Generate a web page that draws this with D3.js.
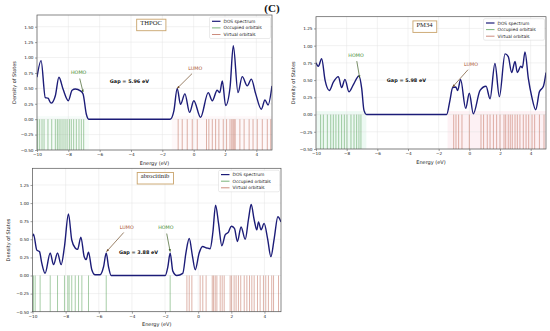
<!DOCTYPE html>
<meta charset="utf-8">
<html>
<head>
  <script src="https://d3js.org/d3.v7.min.js"></script>
  <style>
    html, body { margin: 0; padding: 0; background: #fff; }
    svg { display: block; font-family: "DejaVu Sans", sans-serif; }
  </style>
</head>
<body>
<svg id="chart" width="550" height="331"></svg>
<script>
  // ---- data ----
  const xTicks = [-10, -8, -6, -4, -2, 0, 2, 4]

  const thpocEnergy = [-10, -9.74, -9.47, -9.3, -9.1, -8.83, -8.6, -8.34, -8.0, -7.76,
    -7.55, -7.23, -7.06, -6.85, -6.7, -4, -1.5, -1.26, -1.05, -0.84,
    -0.56, -0.26, 0.01, 0.44, 0.93, 1.19, 1.5, 1.66, 1.83, 2.04,
    2.32, 2.53, 2.83, 3.1, 3.42, 3.68, 3.96, 4.32, 4.55, 4.75, 5.0]
  const thpocDos = [0.68, 0.95, 0.35, 0.34, 0.26, 0.38, 0.68, 0.49, 0.30, 0.47,
    0.49, 0.46, 0.41, 0.08, 0, 0, 0, 0.14, 0.50, 0.24,
    0.41, 0.11, 0.30, 0.03, 0.43, 0.30, 0.47, 0.43, 0.62, 0.22,
    0.51, 1.19, 0.43, 0.69, 0.54, 0.65, 0.41, 0.16, 0.31, 0.23, 0.54]
  const thpocOccupied = [-9.96, -9.83, -9.68, -9.55, -9.30, -9.06, -8.83, -8.70, -8.59, -8.47,
    -8.34, -8.21, -8.08, -7.93, -7.81, -7.66, -7.49, -7.32, -7.17, -7.02]
  const thpocVirtual = [-0.99, -0.73, -0.41, -0.09, 0.23, 0.82, 0.97, 1.19, 1.40, 1.61,
    1.89, 2.10, 2.32, 2.43, 2.51, 2.58, 2.65, 2.95, 3.22, 3.54, 3.79, 4.06, 4.38, 4.70, 4.92]

  const pm34Energy = [-10, -9.85, -9.63, -9.41, -9.13, -8.87, -8.54, -8.33, -8.11, -7.85,
    -7.57, -7.2, -7.02, -6.87, -6.7, -4, -1.48, -1.26, -1.09, -0.89,
    -0.76, -0.57, -0.24, 0.0, 0.26, 0.7, 1.09, 1.35, 1.67, 1.96,
    2.33, 2.54, 2.76, 2.98, 3.13, 3.35, 3.46, 3.63, 3.85, 4.07,
    4.33, 4.57, 4.83, 5.0]
  const pm34Dos = [0.75, 0.70, 0.81, 0.50, 0.35, 0.47, 0.55, 0.39, 0.51, 0.33,
    0.43, 0.56, 0.38, 0.06, 0, 0, 0, 0.21, 0.39, 0.40,
    0.35, 0.51, 0.09, 0.31, 0.01, 0.35, 0.41, 0.23, 0.74, 0.26,
    0.88, 0.84, 0.61, 0.77, 0.61, 0.70, 0.68, 0.91, 0.52, 0.26,
    0.07, 0.33, 0.41, 0.61]
  const pm34Occupied = [-9.70, -9.52, -9.26, -9.04, -8.87, -8.70, -8.52, -8.33, -8.15, -7.98,
    -7.72, -7.52, -7.35, -7.20, -7.07]
  const pm34Virtual = [-1.02, -0.87, -0.70, -0.48, 0.0, 0.76, 0.93, 1.17, 1.35, 1.57,
    1.78, 2.0, 2.26, 2.37, 2.54, 2.67, 2.80, 2.98, 3.13, 3.30,
    3.52, 3.70, 3.87, 4.09, 4.26, 4.57, 4.87]

  const abroEnergy = [-10, -9.94, -9.74, -9.58, -9.44, -9.24, -8.93, -8.73, -8.49, -8.27,
    -8.07, -7.83, -7.63, -7.42, -7.28, -7.08, -6.88, -6.76, -6.62, -6.42,
    -6.22, -5.92, -5.71, -5.55, -5.41, -5.25, -3, -1.99, -1.83, -1.69,
    -1.53, -1.29, -0.93, -0.74, -0.54, -0.34, -0.18, 0.06, 0.26, 0.52,
    0.72, 0.89, 1.05, 1.23, 1.43, 1.63, 1.83, 2.0, 2.19, 2.37,
    2.59, 2.84, 3.04, 3.2, 3.38, 3.54, 3.64, 3.8, 3.98, 4.19,
    4.39, 4.59, 4.81, 5.0]
  const abroDos = [0.54, 0.57, 0.35, 0.33, 0.17, 0.03, 0.31, 0.15, 0.31, 0.15,
    0.40, 0.85, 0.49, 0.38, 0.36, 0.53, 0.26, 0.22, 0.32, 0.08,
    0.01, 0.01, 0.12, 0.31, 0.12, 0, 0, 0, 0.12, 0.31,
    0.06, 0, 0.03, 0.31, 0.51, 0.26, 0.08, 0.31, 0.40, 0.38,
    0.37, 0.60, 0.97, 0.72, 0.41, 0.56, 0.60, 0.68, 0.65, 0.47,
    0.67, 0.50, 0.78, 0.98, 0.77, 0.63, 0.74, 0.63, 0.72, 0.51,
    0.26, 0.51, 0.81, 0.74]
  const abroOccupied = [-9.94, -9.84, -9.54, -8.93, -8.49, -8.07, -7.87, -7.79, -7.63, -7.42,
    -7.22, -7.02, -6.62, -5.55, -1.69]
  const abroVirtual = [-0.68, -0.54, -0.38, 0.12, 0.28, 0.48, 0.85, 0.93, 1.03, 1.13,
    1.33, 1.45, 1.57, 1.93, 2.02, 2.17, 2.29, 2.43, 2.57, 2.78,
    2.94, 3.10, 3.24, 3.38, 3.58, 3.74, 3.94, 4.08, 4.24, 4.44, 4.55, 4.85]

  const legendLabels = ["DOS spectrum", "Occupied orbitals", "Virtual orbitals"]

  // colours
  const dosColor = "#1c1c78"
  const occColor = "#3a8f3a"
  const virtColor = "#b5553f"

  const panels = [
    {
      title: "THPOC", energy: thpocEnergy, dos: thpocDos, occ: thpocOccupied, virt: thpocVirtual,
      box: { left: 37, right: 272, top: 15, bottom: 150 }, yMax: 1.69, yTopTick: 1.5,
      titleX: 151, gap: "Gap = 5.96 eV", gapAt: [-4.1, 0.61],
      homo: { text: [-7.34, 0.73], tip: [-7.06, 0.44] },
      lumo: { text: [0.1, 0.79], tip: [-1.05, 0.5] },
      tint: 0.35
    },
    {
      title: "PM34", energy: pm34Energy, dos: pm34Dos, occ: pm34Occupied, virt: pm34Virtual,
      box: { left: 316, right: 546, top: 16.7, bottom: 149 }, yMax: 1.42, yTopTick: 1.25,
      titleX: 424.5, gap: "Gap = 5.98 eV", gapAt: [-4.1, 0.49],
      homo: { text: [-7.39, 0.84], tip: [-7.15, 0.53] },
      lumo: { text: [0.11, 0.70], tip: [-1.09, 0.4] },
      tint: 0.7
    },
    {
      title: "abrocitinib", energy: abroEnergy, dos: abroDos, occ: abroOccupied, virt: abroVirtual,
      box: { left: 32.5, right: 281, top: 168.3, bottom: 311.7 }, yMax: 1.48, yTopTick: 1.25,
      titleX: 155, gap: "Gap =  3.88 eV", gapAt: [-3.6, 0.32],
      homo: { text: [-1.95, 0.64], tip: [-1.69, 0.33] },
      lumo: { text: [-4.31, 0.64], tip: [-5.53, 0.33] },
      tint: 0
    }
  ]

  const svg = d3.select("#chart")

  const defs = svg.append("defs")
  function marker(id, color) {
    defs.append("marker")
      .attr("id", id)
      .attr("viewBox", "0 0 10 10")
      .attr("refX", 9).attr("refY", 5)
      .attr("markerWidth", 4).attr("markerHeight", 4)
      .attr("orient", "auto")
      .append("path")
      .attr("d", "M0,1 L10,5 L0,9 z")
      .attr("fill", color)
  }
  marker("arrHomo", "#3f5f26")
  marker("arrLumo", "#6f4a26")

  panels.forEach((p, i) => drawPanel(p, i))

  function drawPanel(p, idx) {
    const b = p.box
    const x = d3.scaleLinear().domain([-10, 5]).range([b.left, b.right])
    const y = d3.scaleLinear().domain([-0.5, p.yMax]).range([b.bottom, b.top])
    const yTicks = d3.range(-0.5, p.yTopTick + 0.001, 0.25)

    const g = svg.append("g")
    const clipId = "clip" + idx
    defs.append("clipPath").attr("id", clipId)
      .append("rect")
      .attr("x", b.left).attr("y", b.top)
      .attr("width", b.right - b.left).attr("height", b.bottom - b.top)

    // faint highlight behind the orbital sticks
    if (p.tint > 0) {
      g.append("rect")
        .attr("x", x(-10)).attr("y", y(0.05))
        .attr("width", x(d3.max(p.occ) + 0.35) - x(-10))
        .attr("height", y(-0.5) - y(0.05))
        .attr("fill", "#e6f7ee").attr("fill-opacity", p.tint)
      g.append("rect")
        .attr("x", x(d3.min(p.virt) - 0.4)).attr("y", y(0.05))
        .attr("width", x(5) - x(d3.min(p.virt) - 0.4))
        .attr("height", y(-0.5) - y(0.05))
        .attr("fill", "#fcebef").attr("fill-opacity", p.tint)
    }

    // grid
    g.append("g").selectAll("line").data(xTicks).join("line")
      .attr("x1", d => x(d)).attr("x2", d => x(d))
      .attr("y1", b.top).attr("y2", b.bottom)
      .attr("stroke", "#e4e4e4").attr("stroke-width", 0.5)
    g.append("g").selectAll("line").data(yTicks).join("line")
      .attr("x1", b.left).attr("x2", b.right)
      .attr("y1", d => y(d)).attr("y2", d => y(d))
      .attr("stroke", "#e4e4e4").attr("stroke-width", 0.5)

    // orbital sticks
    g.append("g").selectAll("line").data(p.occ).join("line")
      .attr("x1", d => x(d)).attr("x2", d => x(d))
      .attr("y1", y(-0.5)).attr("y2", y(0))
      .attr("stroke", occColor).attr("stroke-opacity", 0.6).attr("stroke-width", 0.75)
    g.append("g").selectAll("line").data(p.virt).join("line")
      .attr("x1", d => x(d)).attr("x2", d => x(d))
      .attr("y1", y(-0.5)).attr("y2", y(0))
      .attr("stroke", virtColor).attr("stroke-opacity", 0.6).attr("stroke-width", 0.75)

    // DOS curve
    const pts = d3.zip(p.energy, p.dos)
    const line = d3.line()
      .x(d => x(d[0])).y(d => y(d[1]))
      .curve(d3.curveMonotoneX)
    g.append("path")
      .datum(pts)
      .attr("clip-path", `url(#${clipId})`)
      .attr("d", line)
      .attr("fill", "none")
      .attr("stroke", dosColor)
      .attr("stroke-width", 1.4)

    // axes
    const xAxis = g.append("g")
      .attr("transform", `translate(0,${b.bottom})`)
      .call(d3.axisBottom(x).tickValues(xTicks).tickSize(2).tickPadding(1.5).tickFormat(d => d < 0 ? "\u2212" + Math.abs(d) : d))
    const yAxis = g.append("g")
      .attr("transform", `translate(${b.left},0)`)
      .call(d3.axisLeft(y).tickValues(yTicks).tickSize(2).tickPadding(1.5)
        .tickFormat(d => (d < 0 ? "\u2212" : "") + Math.abs(d).toFixed(2)))
    ;[xAxis, yAxis].forEach(a => {
      a.select(".domain").remove()
      a.selectAll(".tick line").attr("stroke", "#444").attr("stroke-width", 0.5)
      a.selectAll(".tick text").attr("font-size", 4.2).attr("fill", "#222")
        .attr("font-family", "DejaVu Sans")
    })

    // frame
    g.append("rect")
      .attr("x", b.left).attr("y", b.top)
      .attr("width", b.right - b.left).attr("height", b.bottom - b.top)
      .attr("fill", "none").attr("stroke", "#555").attr("stroke-width", 0.7)

    // axis titles
    g.append("text")
      .attr("x", (b.left + b.right) / 2).attr("y", b.bottom + 14.5)
      .attr("text-anchor", "middle").attr("font-size", 5).attr("fill", "#222")
      .text("Energy (eV)")
    g.append("text")
      .attr("transform", `translate(${b.left - (idx === 2 ? 23 : 21)},${(b.top + b.bottom) / 2}) rotate(-90)`)
      .attr("text-anchor", "middle").attr("font-size", 5).attr("fill", "#222")
      .text("Density of States")

    // gap annotation
    g.append("text")
      .attr("x", x(p.gapAt[0])).attr("y", y(p.gapAt[1]))
      .attr("dy", "0.35em")
      .attr("text-anchor", "middle").attr("font-size", 4.9).attr("font-weight", "bold").attr("fill", "#111")
      .text(p.gap)

    // HOMO / LUMO arrows
    const notes = [
      { key: "HOMO", d: p.homo, color: "#3f8a2e", arrow: "#3f5f26", mk: "arrHomo" },
      { key: "LUMO", d: p.lumo, color: "#a9522f", arrow: "#6f4a26", mk: "arrLumo" }
    ]
    notes.forEach(n => {
      const tx = x(n.d.text[0]), ty = y(n.d.text[1])
      const ex = x(n.d.tip[0]), ey = y(n.d.tip[1])
      const dx = ex - tx, dy = ey - ty
      const len = Math.hypot(dx, dy)
      const sx = tx + dx / len * 4.5, sy = ty + dy / len * 4.5
      g.append("line")
        .attr("x1", sx).attr("y1", Math.max(sy, ty + 2.5))
        .attr("x2", ex).attr("y2", ey)
        .attr("stroke", n.arrow).attr("stroke-width", 0.7)
        .attr("marker-end", `url(#${n.mk})`)
      g.append("text")
        .attr("x", tx).attr("y", ty)
        .attr("text-anchor", "middle").attr("font-size", 4.8).attr("fill", n.color)
        .text(n.key)
    })

    // title box
    const tg = g.append("g")
    const tt = tg.append("text")
      .attr("x", p.titleX).attr("y", b.top + 10)
      .attr("text-anchor", "middle")
      .attr("font-family", "Liberation Serif, serif")
      .attr("font-size", 6.6).attr("fill", "#222")
      .text(p.title)
    const bb = tt.node().getBBox()
    tg.insert("rect", "text")
      .attr("x", bb.x - 3.5).attr("y", b.top + 4.2)
      .attr("width", bb.width + 7).attr("height", 11.5)
      .attr("fill", "#fff").attr("stroke", "#c9a46c").attr("stroke-width", 0.9)

    // legend
    const lw = 61, lh = 21.5
    const lx = b.right - lw - 1.5, ly = b.top + 2
    const lg = g.append("g").attr("transform", `translate(${lx},${ly})`)
    lg.append("rect")
      .attr("width", lw).attr("height", lh).attr("rx", 1.5)
      .attr("fill", "#fff").attr("fill-opacity", 0.85)
      .attr("stroke", "#d6d6d6").attr("stroke-width", 0.5)
    const legColors = [dosColor, occColor, virtColor]
    const legOpacity = [1, 0.75, 0.75]
    legendLabels.forEach((lab, k) => {
      const ry = 4.3 + k * 6.6
      lg.append("line")
        .attr("x1", 2.5).attr("x2", 11).attr("y1", ry).attr("y2", ry)
        .attr("stroke", legColors[k]).attr("stroke-opacity", legOpacity[k])
        .attr("stroke-width", k === 0 ? 1.2 : 0.9)
      lg.append("text")
        .attr("x", 14).attr("y", ry).attr("dy", "0.35em")
        .attr("font-size", 4.4).attr("fill", "#222")
        .text(lab)
    })
  }

  // panel letter
  svg.append("text")
    .attr("x", 272).attr("y", 12)
    .attr("text-anchor", "middle")
    .attr("font-family", "Liberation Serif, serif")
    .attr("font-weight", "bold").attr("font-size", 11).attr("fill", "#111")
    .text("(C)")
</script>
</body>
</html>
